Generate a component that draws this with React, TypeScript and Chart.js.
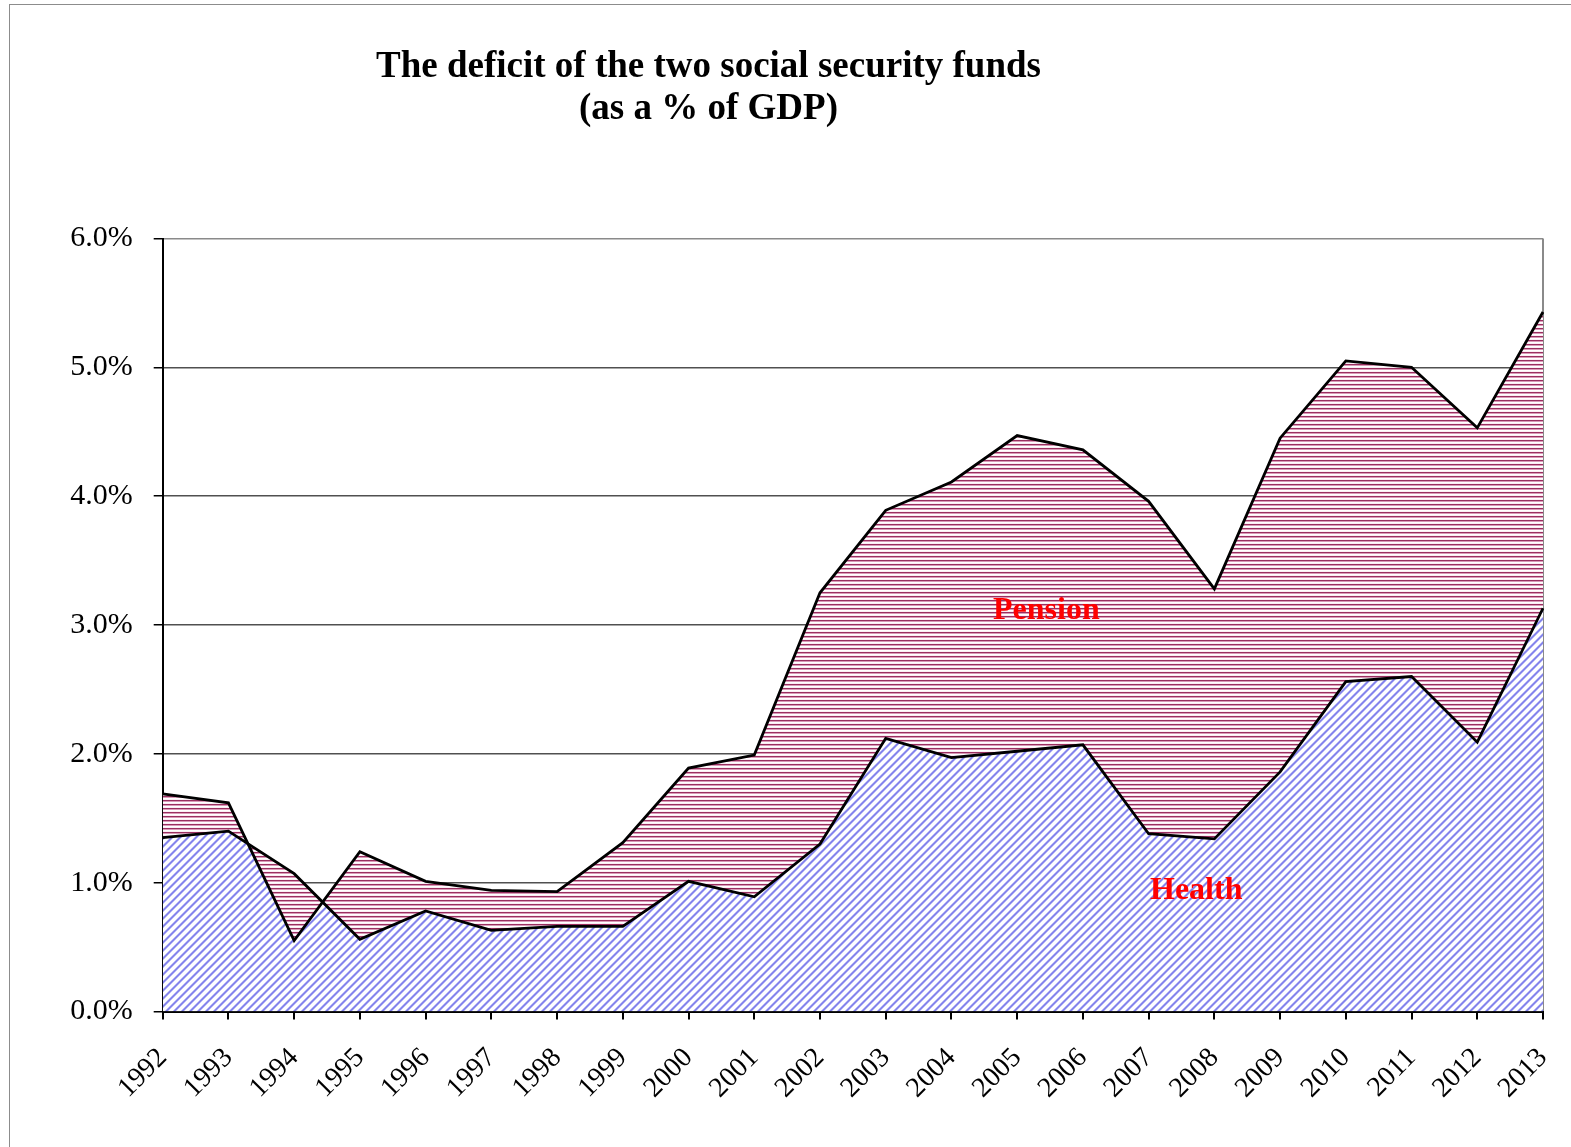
import React, { useEffect, useRef } from 'react';
import { Chart, registerables } from 'chart.js';

Chart.register(...registerables);

const years = ['1992', '1993', '1994', '1995', '1996', '1997', '1998', '1999', '2000', '2001', '2002', '2003', '2004', '2005', '2006', '2007', '2008', '2009', '2010', '2011', '2012', '2013'];
// health fund deficit, % of GDP
const healthDeficit = [1.35, 1.40, 1.07, 0.56, 0.78, 0.63, 0.66, 0.66, 1.01, 0.89, 1.30, 2.12, 1.97, 2.02, 2.07, 1.38, 1.34, 1.86, 2.56, 2.60, 2.09, 3.13];
// health + pension (upper line), % of GDP
const totalDeficit = [1.69, 1.62, 0.55, 1.24, 1.01, 0.94, 0.93, 1.31, 1.89, 1.99, 3.25, 3.89, 4.11, 4.47, 4.36, 3.96, 3.28, 4.45, 5.05, 5.00, 4.53, 5.43];
const yMin = 0;
const yMax = 6;
const yStep = 1;

const W = 1571;
const H = 1147;
const SERIF = '"Liberation Serif", "Times New Roman", serif';

function makeDiagonalPattern(): CanvasPattern | string {
  const n = 8;
  const c = document.createElement('canvas');
  c.width = n;
  c.height = n;
  const g = c.getContext('2d');
  if (!g) return '#9999ff';
  const img = g.createImageData(n, n);
  for (let y = 0; y < n; y++) {
    for (let x = 0; x < n; x++) {
      const k = (x + y) % n;
      let col = [255, 255, 255];
      if (k === 0 || k === 1) col = [132, 132, 236];
      else if (k === 2 || k === 7) col = [196, 196, 247];
      const i = (y * n + x) * 4;
      img.data[i] = col[0];
      img.data[i + 1] = col[1];
      img.data[i + 2] = col[2];
      img.data[i + 3] = 255;
    }
  }
  g.putImageData(img, 0, 0);
  return g.createPattern(c, 'repeat') || '#9999ff';
}

function makeHorizontalPattern(): CanvasPattern | string {
  const c = document.createElement('canvas');
  c.width = 4;
  c.height = 4;
  const g = c.getContext('2d');
  if (!g) return '#cc6699';
  const rows = ['#9a2f60', '#d99ab8', '#ffffff', '#fbeef4'];
  rows.forEach((col, r) => {
    g.fillStyle = col;
    g.fillRect(0, r, 4, 1);
  });
  return g.createPattern(c, 'repeat') || '#cc6699';
}

export default function App() {
  const ref = useRef<HTMLCanvasElement | null>(null);

  useEffect(() => {
    if (!ref.current) return;
    const blue = makeDiagonalPattern();
    const red = makeHorizontalPattern();
    const chart = new Chart(ref.current, {
      type: 'line',
      data: {
        labels: years,
        datasets: [
          {
            label: 'Pension',
            data: totalDeficit,
            borderColor: '#000',
            borderWidth: 2.8,
            backgroundColor: red as any,
            fill: 1,
            pointRadius: 0,
            tension: 0,
          },
          {
            label: 'Health',
            data: healthDeficit,
            borderColor: '#000',
            borderWidth: 2.8,
            backgroundColor: blue as any,
            fill: 'origin',
            pointRadius: 0,
            tension: 0,
          },
        ],
      },
      options: {
        responsive: false,
        animation: false,
        devicePixelRatio: 1,
        layout: { padding: { left: 12.7, right: 28, top: 238.5, bottom: 0 } },
        plugins: {
          legend: { display: false },
          tooltip: { enabled: false },
          title: { display: false },
          filler: { drawTime: 'beforeDatasetsDraw' },
        },
        scales: {
          x: {
            type: 'category',
            offset: false,
            afterFit: (s: any) => {
              s.height = 135.5;
              s.paddingLeft = 0;
              s.paddingRight = 0;
            },
            grid: {
              drawOnChartArea: true,
              color: (ctx: any) => (ctx.index === years.length - 1 ? '#8a8a8a' : 'rgba(0,0,0,0)'),
              lineWidth: 2,
              tickColor: '#000',
              tickLength: 8,
              offset: false,
            },
            border: { display: true, color: '#000', width: 2 },
            ticks: {
              autoSkip: false,
              maxRotation: 45,
              minRotation: 45,
              padding: 22,
              color: '#000',
              font: { family: SERIF, size: 28 },
            },
          },
          y: {
            min: yMin,
            max: yMax,
            afterFit: (s: any) => {
              s.width = 150;
              s.paddingTop = 0;
              s.paddingBottom = 0;
            },
            grid: {
              color: (ctx: any) =>
                ctx.tick && ctx.tick.value === yMax ? '#8a8a8a' : ctx.tick && ctx.tick.value === yMin ? 'rgba(0,0,0,0)' : '#505050',
              lineWidth: 1.5,
              tickColor: '#000',
              tickLength: 9,
            },
            border: { display: true, color: '#000', width: 2 },
            ticks: {
              stepSize: yStep,
              padding: 21,
              color: '#000',
              font: { family: SERIF, size: 30 },
              callback: (v: any) => Number(v).toFixed(1) + '%',
            },
          },
        },
      },
    });
    return () => chart.destroy();
  }, []);

  return (
    <div
      style={{
        position: 'fixed',
        left: 0,
        top: 0,
        width: W,
        height: H,
        background: '#fff',
        overflow: 'hidden',
      }}
    >
      <div
        style={{
          position: 'absolute',
          left: 9,
          top: 4,
          width: W - 9,
          height: H - 4,
          borderTop: '1px solid #8c8c8c',
          borderLeft: '1px solid #8c8c8c',
          boxSizing: 'border-box',
        }}
      />
      <canvas ref={ref} width={W} height={H} style={{ position: 'absolute', left: 0, top: 0, width: W, height: H }} />
      <div
        style={{
          position: 'absolute',
          left: 0,
          top: 44,
          width: 1417,
          textAlign: 'center',
          fontFamily: SERIF,
          fontWeight: 'bold',
          fontSize: 37,
          lineHeight: '42px',
          color: '#000',
        }}
      >
        <div>The deficit of the two social security funds</div>
        <div>(as a % of GDP)</div>
      </div>
      <div
        style={{
          position: 'absolute',
          left: 993,
          top: 592,
          fontFamily: SERIF,
          fontWeight: 'bold',
          fontSize: 32,
          lineHeight: '32px',
          color: '#ff0000',
        }}
      >
        Pension
      </div>
      <div
        style={{
          position: 'absolute',
          left: 1150,
          top: 872,
          fontFamily: SERIF,
          fontWeight: 'bold',
          fontSize: 32,
          lineHeight: '32px',
          color: '#ff0000',
        }}
      >
        Health
      </div>
    </div>
  );
}
